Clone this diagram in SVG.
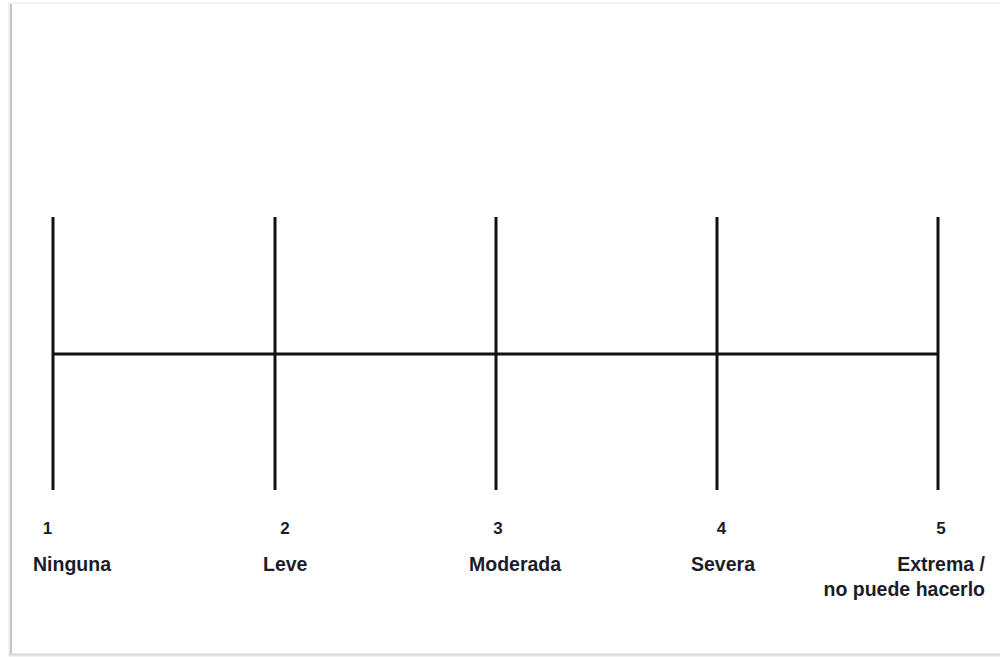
<svg xmlns="http://www.w3.org/2000/svg" width="1000" height="657" viewBox="0 0 1000 657">
<style>
.ln{stroke:#111;stroke-width:3;fill:none}
.num{font-family:"Liberation Sans",Arial,sans-serif;font-weight:bold;font-size:17px;fill:#1c1c28}
.lbl{font-family:"Liberation Sans",Arial,sans-serif;font-weight:bold;font-size:19.5px;fill:#1c1c28}
</style>
<rect width="1000" height="657" fill="#ffffff"/>
<g id="frame">
<rect x="9" y="3" width="1000" height="653" fill="#ffffff" stroke="#e4e4e4" stroke-width="1"/>
<line x1="11" y1="4" x2="11" y2="655" stroke="#c4c4c4" stroke-width="2"/>
<line x1="9" y1="654.5" x2="1000" y2="654.5" stroke="#d6d6d6" stroke-width="2"/>
</g>
<g id="connectors">
<line class="ln" x1="53" y1="354" x2="938" y2="354"/>
</g>
<g id="tick1"><line class="ln" x1="53" y1="217" x2="53" y2="490"/><text class="num" x="47.5" y="534" text-anchor="middle">1</text><text class="lbl" x="33" y="571">Ninguna</text></g>
<g id="tick2"><line class="ln" x1="275" y1="217" x2="275" y2="490"/><text class="num" x="285" y="534" text-anchor="middle">2</text><text class="lbl" x="263" y="571">Leve</text></g>
<g id="tick3"><line class="ln" x1="496" y1="217" x2="496" y2="490"/><text class="num" x="498" y="534" text-anchor="middle">3</text><text class="lbl" x="469" y="571">Moderada</text></g>
<g id="tick4"><line class="ln" x1="717" y1="217" x2="717" y2="490"/><text class="num" x="721.5" y="534" text-anchor="middle">4</text><text class="lbl" x="691" y="571">Severa</text></g>
<g id="tick5"><line class="ln" x1="938" y1="217" x2="938" y2="490"/><text class="num" x="941" y="534" text-anchor="middle">5</text><text class="lbl" x="985" y="571" text-anchor="end">Extrema /</text><text class="lbl" x="985" y="596" text-anchor="end">no puede hacerlo</text></g>
</svg>
